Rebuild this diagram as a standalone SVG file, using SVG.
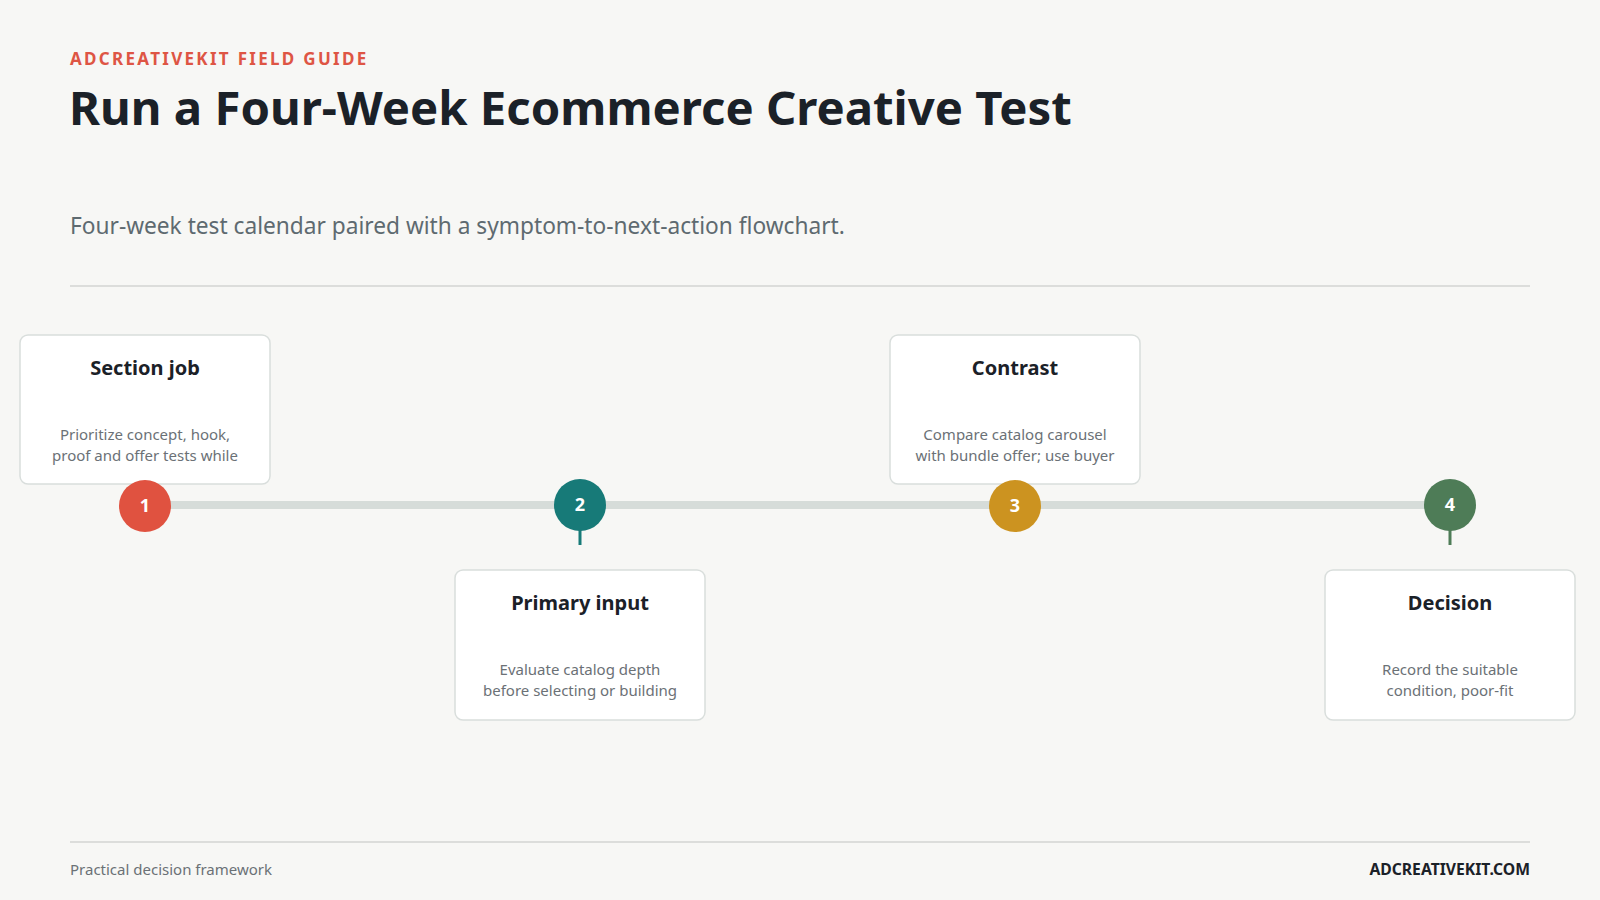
<svg xmlns="http://www.w3.org/2000/svg" width="1600" height="900" viewBox="0 0 1600 900">
  <style>
    text { font-family: "Noto Sans", "Open Sans", "Liberation Sans", sans-serif; }
    .kicker { font-size: 17px; font-weight: 700; fill: #de5544; letter-spacing: 2.3px; }
    .title { font-size: 47.3px; font-weight: 700; fill: #1b2128; }
    .sub { font-size: 22.7px; fill: #5e6a70; }
    .rule { stroke: #dcdddb; stroke-width: 2; }
    .card { fill: #ffffff; stroke: #d9dedc; stroke-width: 1.5; }
    .ctitle { font-size: 20px; font-weight: 700; fill: #1b2128; text-anchor: middle; }
    .cdesc { font-size: 15px; fill: #6b7176; text-anchor: middle; }
    .num { font-size: 18px; font-weight: 700; fill: #ffffff; text-anchor: middle; }
    .foot { font-size: 15px; fill: #6b7176; }
    .brand { font-size: 15.7px; font-weight: 700; fill: #1b2128; text-anchor: end; }
  </style>
  <rect width="1600" height="900" fill="#f7f7f5"/>

  <g id="header">
    <text class="kicker" x="70" y="65">ADCREATIVEKIT FIELD GUIDE</text>
    <text class="title" x="69" y="125">Run a Four-Week Ecommerce Creative Test</text>
    <text class="sub" x="70" y="234">Four-week test calendar paired with a symptom-to-next-action flowchart.</text>
    <line class="rule" x1="70" y1="286" x2="1530" y2="286"/>
  </g>

  <g id="connectors">
    <line x1="145" y1="505" x2="1450" y2="505" stroke="#d6dcd9" stroke-width="8"/>
    <line x1="580" y1="505" x2="580" y2="545" stroke="#177a78" stroke-width="3"/>
    <line x1="1450" y1="505" x2="1450" y2="545" stroke="#4e7c57" stroke-width="3"/>
  </g>

  <g id="node-1">
    <rect class="card" x="20" y="335" width="250" height="149" rx="8"/>
    <text class="ctitle" x="145" y="375">Section job</text>
    <text class="cdesc" x="145" y="440">Prioritize concept, hook,</text>
    <text class="cdesc" x="145" y="461">proof and offer tests while</text>
    <circle cx="145" cy="506" r="26" fill="#e05240"/>
    <text class="num" x="145" y="512">1</text>
  </g>

  <g id="node-2">
    <circle cx="580" cy="505" r="26" fill="#177a78"/>
    <text class="num" x="580" y="511">2</text>
    <rect class="card" x="455" y="570" width="250" height="150" rx="8"/>
    <text class="ctitle" x="580" y="610">Primary input</text>
    <text class="cdesc" x="580" y="675">Evaluate catalog depth</text>
    <text class="cdesc" x="580" y="696">before selecting or building</text>
  </g>

  <g id="node-3">
    <rect class="card" x="890" y="335" width="250" height="149" rx="8"/>
    <text class="ctitle" x="1015" y="375">Contrast</text>
    <text class="cdesc" x="1015" y="440">Compare catalog carousel</text>
    <text class="cdesc" x="1015" y="461">with bundle offer; use buyer</text>
    <circle cx="1015" cy="506" r="26" fill="#cc9320"/>
    <text class="num" x="1015" y="512">3</text>
  </g>

  <g id="node-4">
    <circle cx="1450" cy="505" r="26" fill="#4e7c57"/>
    <text class="num" x="1450" y="511">4</text>
    <rect class="card" x="1325" y="570" width="250" height="150" rx="8"/>
    <text class="ctitle" x="1450" y="610">Decision</text>
    <text class="cdesc" x="1450" y="675">Record the suitable</text>
    <text class="cdesc" x="1450" y="696">condition, poor-fit</text>
  </g>

  <g id="footer">
    <line class="rule" x1="70" y1="842" x2="1530" y2="842"/>
    <text class="foot" x="70" y="875">Practical decision framework</text>
    <text class="brand" x="1530" y="875">ADCREATIVEKIT.COM</text>
  </g>
</svg>
